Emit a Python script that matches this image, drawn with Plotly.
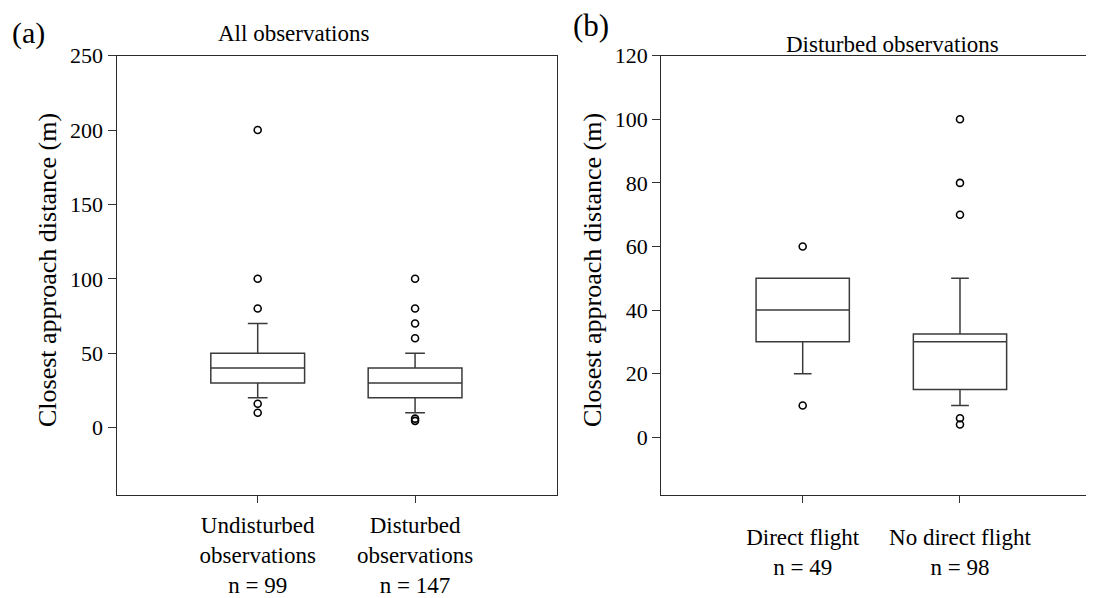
import plotly.graph_objects as go

# ---- data ----
cats_a = ["Undisturbed<br>observations<br>n = 99", "Disturbed<br>observations<br>n = 147"]
q1_a = [30, 20]
med_a = [40, 30]
q3_a = [50, 40]
lo_a = [20, 10]
hi_a = [70, 50]
out_a_cat = [cats_a[0]] * 5 + [cats_a[1]] * 6
out_a_val = [200, 100, 80, 16, 10, 100, 80, 70, 60, 6, 4.5]

cats_b = ["Direct flight<br>n = 49", "No direct flight<br>n = 98"]
q1_b = [30, 15]
med_b = [40, 30]
q3_b = [50, 32.5]
lo_b = [20, 10]
hi_b = [50, 50]
out_b_cat = [cats_b[0]] * 2 + [cats_b[1]] * 5
out_b_val = [60, 10, 100, 80, 70, 6, 4]

ticks_a = [0, 50, 100, 150, 200, 250]
ticks_b = [0, 20, 40, 60, 80, 100, 120]

FONT = "Liberation Serif, Times New Roman, serif"
OFF = 8                      # default page body margin
FW, FH = 1094 - OFF, 598 - OFF


def px(x):
    return (x - OFF) / FW


def py(y):
    return 1 - (y - OFF) / FH


box_line = "#3a3a3a"
axis_line = "#2a2a2a"

fig = go.Figure()

fig.add_trace(go.Box(
    x=cats_a, q1=q1_a, median=med_a, q3=q3_a, lowerfence=lo_a, upperfence=hi_a,
    width=0.596, whiskerwidth=0.21, fillcolor="white",
    line=dict(color=box_line, width=1.5), boxpoints=False,
    xaxis="x", yaxis="y", showlegend=False, hoverinfo="skip"))
fig.add_trace(go.Scatter(
    x=out_a_cat, y=out_a_val, mode="markers",
    marker=dict(symbol="circle-open", size=7, color="black", line=dict(width=1.6)),
    xaxis="x", yaxis="y", showlegend=False))

fig.add_trace(go.Box(
    x=cats_b, q1=q1_b, median=med_b, q3=q3_b, lowerfence=lo_b, upperfence=hi_b,
    width=0.593, whiskerwidth=0.19, fillcolor="white",
    line=dict(color=box_line, width=1.5), boxpoints=False,
    xaxis="x2", yaxis="y2", showlegend=False, hoverinfo="skip"))
fig.add_trace(go.Scatter(
    x=out_b_cat, y=out_b_val, mode="markers",
    marker=dict(symbol="circle-open", size=7, color="black", line=dict(width=1.6)),
    xaxis="x2", yaxis="y2", showlegend=False))

ydom = [py(494.5), py(55.7)]
xfont = dict(family=FONT, size=23, color="black")
yfont = dict(family=FONT, size=22, color="black")


def ann(text, x, y, size, angle=0):
    return dict(text=text, x=px(x), y=py(y), xref="paper", yref="paper",
                xanchor="center", yanchor="middle", textangle=angle,
                showarrow=False, font=dict(family=FONT, size=size, color="black"))


fig.update_layout(
    template="none",
    width=FW, height=FH,
    margin=dict(l=0, r=0, t=0, b=0, pad=0),
    paper_bgcolor="white", plot_bgcolor="white",
    font=dict(family=FONT, size=22, color="black"),
    xaxis=dict(domain=[px(116.7), px(556.7)], type="category",
               categoryorder="array", categoryarray=cats_a,
               range=[-0.896, 1.90], showline=True, mirror=True,
               linecolor=axis_line, linewidth=1.4, ticks="outside", ticklen=7,
               tickcolor="#333", showgrid=False, tickfont=xfont, anchor="y",
               ticklabelstandoff=3, automargin=False),
    yaxis=dict(domain=ydom, range=[-45, 250], tickvals=ticks_a,
               showline=True, mirror=True, linecolor=axis_line, linewidth=1.4,
               ticks="outside", ticklen=8, tickcolor="#333", showgrid=False,
               zeroline=False, tickfont=yfont, anchor="x", automargin=False),
    xaxis2=dict(domain=[px(661.3), 1.0], type="category",
                categoryorder="array", categoryarray=cats_b,
                range=[-0.899, 1.852], showline=True, mirror=True,
                linecolor=axis_line, linewidth=1.4, ticks="outside", ticklen=7,
                tickcolor="#333", showgrid=False, tickfont=xfont, anchor="y2",
                ticklabelstandoff=15, automargin=False),
    yaxis2=dict(domain=ydom, range=[-18, 120], tickvals=ticks_b,
                showline=True, mirror=False, linecolor=axis_line, linewidth=1.4,
                ticks="outside", ticklen=8, tickcolor="#333", showgrid=False,
                zeroline=False, tickfont=yfont, anchor="x2", automargin=False),
    annotations=[
        ann("(a)", 28, 33, 30),
        ann("All observations", 293, 34, 23),
        ann("(b)", 591, 26, 31),
        ann("Disturbed observations", 892, 44, 23),
        ann("Closest approach distance (m)", 47, 270, 26, -90),
        ann("Closest approach distance (m)", 592, 270, 26, -90),
    ],
)

fig.write_html("out.html")
